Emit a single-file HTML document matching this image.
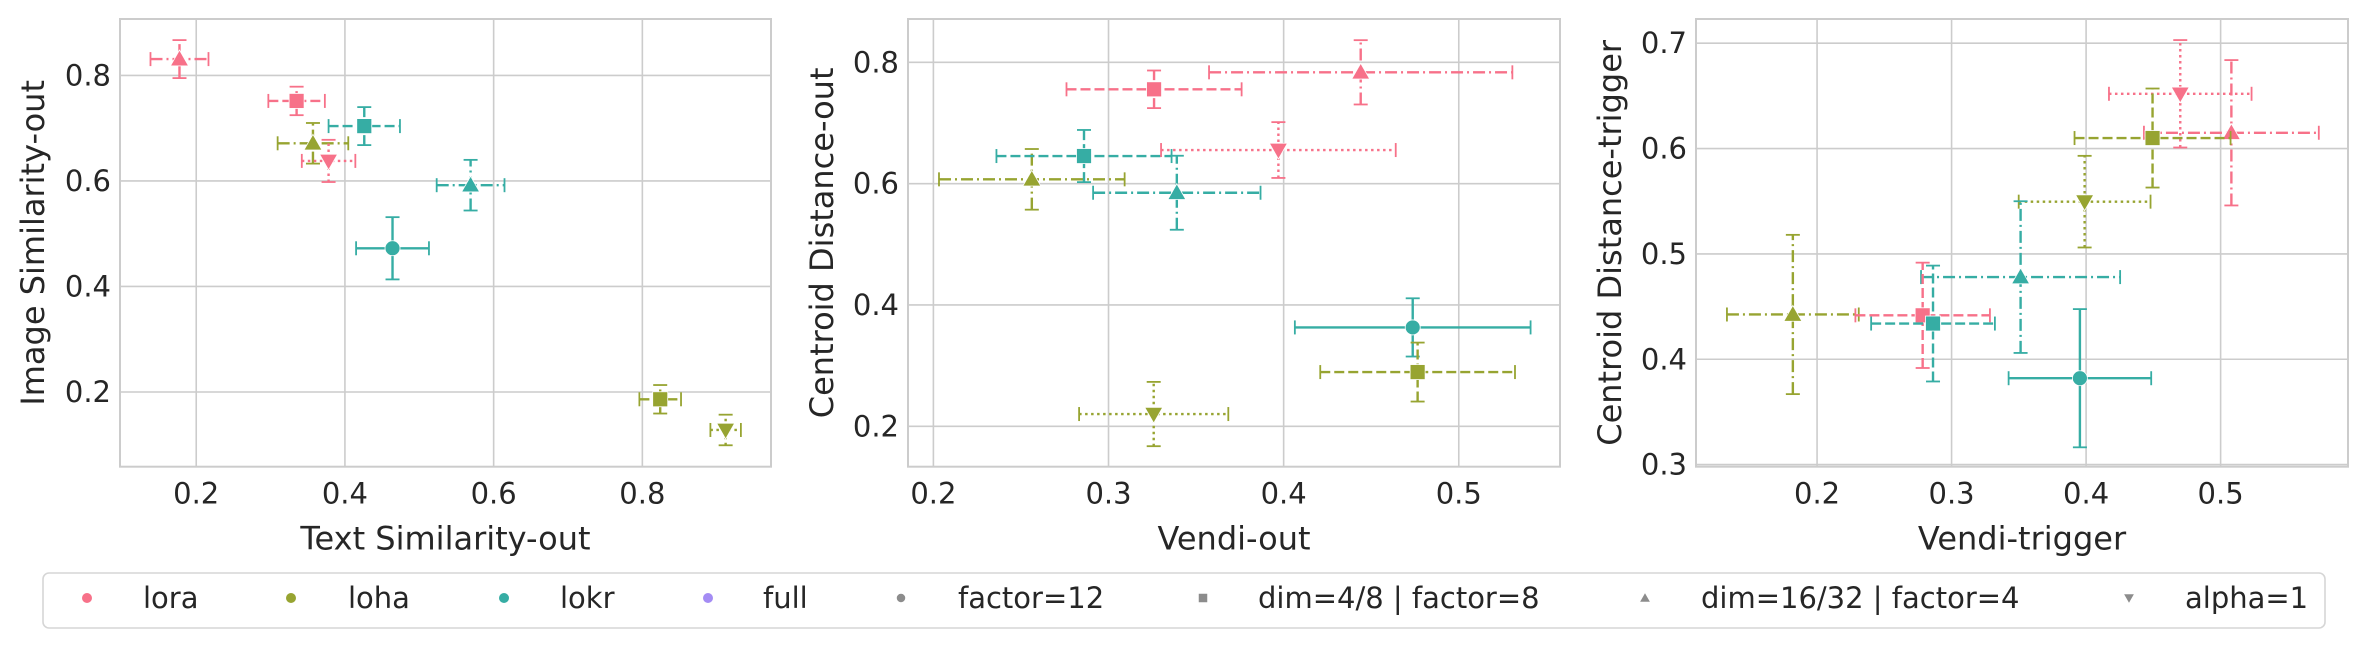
<!DOCTYPE html>
<html><head><meta charset="utf-8"><style>
html,body{margin:0;padding:0;background:#fff;}
svg{display:block;}
text{font-family:"DejaVu Sans","Liberation Sans",sans-serif;fill:#262626;}
</style></head><body>
<svg id="fig" width="2368" height="648" viewBox="0 0 2368 648" xmlns="http://www.w3.org/2000/svg"></svg>
<script>
// ---- data ----
const methods = ["lora","loha","lokr","full"];
const methodColors = ["#f77189","#97a431","#36ada4","#a48cf4"];
const configs = ["factor=12","dim=4/8 | factor=8","dim=16/32 | factor=4","alpha=1"];
const p1Method = [0,0,1,0,2,2,2,1,1];
const p1Config = [2,1,2,3,1,2,0,1,3];
const p1X   = [0.1775,0.335,0.357,0.378,0.426,0.569,0.464,0.824,0.912];
const p1Y   = [0.831,0.7517,0.6714,0.638,0.704,0.592,0.4724,0.1862,0.128];
const p1Xe  = [0.039,0.038,0.0475,0.036,0.048,0.0456,0.049,0.028,0.0205];
const p1Ye  = [0.036,0.027,0.0385,0.040,0.036,0.048,0.059,0.027,0.029];

const p2Method = [1,2,0,0,0,2,2,1,1];
const p2Config = [2,1,1,2,3,2,0,1,3];
const p2X   = [0.2562,0.286,0.326,0.444,0.397,0.339,0.4737,0.4765,0.3258];
const p2Y   = [0.6071,0.6455,0.7555,0.7835,0.6554,0.585,0.363,0.2894,0.2202];
const p2Xe  = [0.053,0.050,0.050,0.0866,0.067,0.0478,0.0673,0.0556,0.0426];
const p2Ye  = [0.050,0.043,0.031,0.053,0.046,0.061,0.048,0.0486,0.053];

const p3Method = [0,0,1,1,2,1,0,2,2];
const p3Config = [3,2,1,3,2,2,1,1,0];
const p3X   = [0.470,0.508,0.4494,0.3989,0.3513,0.182,0.2785,0.2862,0.3954];
const p3Y   = [0.652,0.615,0.610,0.5496,0.478,0.4425,0.4417,0.4339,0.382];
const p3Xe  = [0.053,0.065,0.058,0.049,0.074,0.049,0.050,0.046,0.053];
const p3Ye  = [0.051,0.069,0.047,0.0435,0.072,0.0756,0.050,0.055,0.0656];

const p1XTicks = [0.2,0.4,0.6,0.8];
const p1YTicks = [0.2,0.4,0.6,0.8];
const p2XTicks = [0.2,0.3,0.4,0.5];
const p2YTicks = [0.2,0.4,0.6,0.8];
const p3XTicks = [0.2,0.3,0.4,0.5];
const p3YTicks = [0.3,0.4,0.5,0.6,0.7];

const NS="http://www.w3.org/2000/svg";
const svg=document.getElementById('fig');
function mk(tag,attrs,parent){const e=document.createElementNS(NS,tag);for(const k in attrs)e.setAttribute(k,attrs[k]);(parent||svg).appendChild(e);return e;}
const dashes=["none","10,4","12,4,2,4","2.5,3.5"];

function marker(g,cfg,cx,cy,color,s){
  let e;
  if(cfg===0){e=mk('circle',{cx:cx,cy:cy,r:7.5*s,fill:color,stroke:'#fff','stroke-width':0.8},g);}
  else if(cfg===1){const h=7.5*s;e=mk('rect',{x:cx-h,y:cy-h,width:2*h,height:2*h,fill:color,stroke:'#fff','stroke-width':0.8},g);}
  else if(cfg===2){const h=9*s;e=mk('polygon',{points:`${cx},${cy-h} ${cx+h},${cy+h*0.75} ${cx-h},${cy+h*0.75}`,fill:color,stroke:'#fff','stroke-width':0.8},g);}
  else {const h=9*s;e=mk('polygon',{points:`${cx},${cy+h} ${cx+h},${cy-h*0.75} ${cx-h},${cy-h*0.75}`,fill:color,stroke:'#fff','stroke-width':0.8},g);}
  return e;
}

function panel(name,box,xr,yr,xt,yt,xlab,ylab,ylabX,M,C,X,Y,Xe,Ye){
  const g=mk('g',{});
  
  
  const sx=v=>box.l+(v-xr[0])/(xr[1]-xr[0])*(box.r-box.l);
  const sy=v=>box.b-(v-yr[0])/(yr[1]-yr[0])*(box.b-box.t);
  xt.forEach(v=>{const x=sx(v);
    const l=mk('line',{x1:x,x2:x,y1:box.t,y2:box.b,stroke:'#cccccc','stroke-width':1.6},g);
    
    
    const t=mk('text',{x:x,y:box.b+37,'font-size':29,'text-anchor':'middle'},g);t.textContent=v.toFixed(1);
    
    
  });
  yt.forEach(v=>{const y=sy(v);
    const l=mk('line',{x1:box.l,x2:box.r,y1:y,y2:y,stroke:'#cccccc','stroke-width':1.6},g);
    
    
    const t=mk('text',{x:box.l-9,y:y+10,'font-size':29,'text-anchor':'end'},g);t.textContent=v.toFixed(1);
    
    
  });
  const fr=mk('rect',{x:box.l,y:box.t,width:box.r-box.l,height:box.b-box.t,fill:'none',stroke:'#cccccc','stroke-width':2},g);
  
  
  const xl=mk('text',{x:(box.l+box.r)/2,y:box.b+83,'font-size':32,'text-anchor':'middle'},g);xl.textContent=xlab;
  
  
  const cy=(box.t+box.b)/2;
  const yl=mk('text',{x:ylabX,y:cy,'font-size':32,'text-anchor':'middle',transform:`rotate(-90 ${ylabX} ${cy})`,'dominant-baseline':'central'},g);yl.textContent=ylab;
  
  
  for(let i=0;i<X.length;i++){
    const col=methodColors[M[i]],cfg=C[i];
    const pg=mk('g',{},g);
    
    
    const cx=sx(X[i]),cyy=sy(Y[i]);
    const x0=sx(X[i]-Xe[i]),x1=sx(X[i]+Xe[i]),y0=sy(Y[i]-Ye[i]),y1=sy(Y[i]+Ye[i]);
    const da=dashes[cfg];
    const st={stroke:col,'stroke-width':2.4,fill:'none'};
    if(da!=='none')st['stroke-dasharray']=da;
    mk('line',Object.assign({x1:x0,x2:x1,y1:cyy,y2:cyy},st),pg);
    mk('line',Object.assign({x1:cx,x2:cx,y1:y0,y2:y1},st),pg);
    const cp={stroke:col,'stroke-width':1.8};
    mk('line',Object.assign({x1:x0,x2:x0,y1:cyy-7,y2:cyy+7},cp),pg);
    mk('line',Object.assign({x1:x1,x2:x1,y1:cyy-7,y2:cyy+7},cp),pg);
    mk('line',Object.assign({x1:cx-7,x2:cx+7,y1:y0,y2:y0},cp),pg);
    mk('line',Object.assign({x1:cx-7,x2:cx+7,y1:y1,y2:y1},cp),pg);
    marker(pg,cfg,cx,cyy,col,1);
  }
}
panel('panel-text-vs-image',{l:120,r:771,t:19,b:466.7},[0.0975,0.973],[0.0584,0.907],p1XTicks,p1YTicks,'Text Similarity-out','Image Similarity-out',33,p1Method,p1Config,p1X,p1Y,p1Xe,p1Ye);
panel('panel-vendi-out',{l:908,r:1560,t:19,b:466.7},[0.1855,0.5578],[0.1334,0.8714],p2XTicks,p2YTicks,'Vendi-out','Centroid Distance-out',822,p2Method,p2Config,p2X,p2Y,p2Xe,p2Ye);
panel('panel-vendi-trigger',{l:1696,r:2348,t:19,b:466.7},[0.110,0.5947],[0.298,0.723],p3XTicks,p3YTicks,'Vendi-trigger','Centroid Distance-trigger',1610,p3Method,p3Config,p3X,p3Y,p3Xe,p3Ye);

// legend
const lg=mk('g',{});


mk('rect',{x:43,y:573,width:2282,height:55,rx:6,fill:'#fff',stroke:'#d6d6d6','stroke-width':1.6},lg);
const legMarkX=[87,291,504,708,901,1203,1645,2129];
const legTextX=[143,348,560,763,958,1258,1701,2185];
const labels=methods.concat(configs);
labels.forEach((lab,i)=>{
  const e=mk('g',{},lg);
  
  
  if(i<4) mk('circle',{cx:legMarkX[i],cy:598,r:5,fill:methodColors[i]},e);
  else marker(e,i-4,legMarkX[i],598,'#8c8c8c',0.62);
  const t=mk('text',{x:legTextX[i],y:608,'font-size':29},e);t.textContent=lab;
});
</script>
</body></html>
